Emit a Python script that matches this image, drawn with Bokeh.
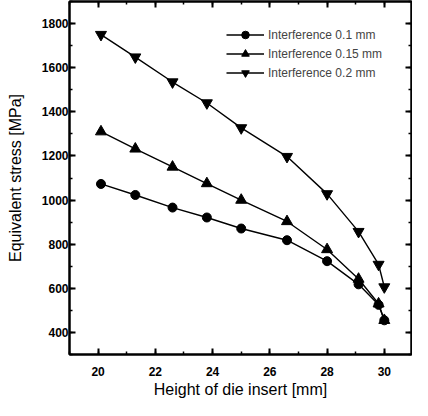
from bokeh.plotting import figure
from bokeh.models import LinearAxis, SingleIntervalTicker, Range1d, Legend
from bokeh.embed import file_html
from bokeh.resources import INLINE

height_mm = [20.1, 21.3, 22.6, 23.8, 25.0, 26.6, 28.0, 29.1, 29.8, 30.0]
stress_01 = [1073, 1023, 966, 921, 871, 818, 723, 618, 525, 455]
stress_015 = [1310, 1232, 1150, 1075, 1000, 903, 776, 642, 530, 455]
stress_02 = [1750, 1648, 1535, 1440, 1327, 1197, 1028, 857, 708, 606]
labels = ["Interference 0.1 mm", "Interference 0.15 mm", "Interference 0.2 mm"]

FONT = "Liberation Sans"

p = figure(width=412, height=400, output_backend="svg", toolbar_location=None,
           x_range=Range1d(19.0, 30.95), y_range=Range1d(300, 1900),
           min_border_left=69, min_border_right=1, min_border_top=1, min_border_bottom=46)
p.grid.visible = False
p.outline_line_color = "black"
p.outline_line_width = 2
p.background_fill_color = "white"
p.border_fill_color = "white"

xt = SingleIntervalTicker(interval=2, num_minor_ticks=2)
yt = SingleIntervalTicker(interval=200, num_minor_ticks=2)
p.xaxis.ticker = xt
p.yaxis.ticker = yt

for ax in [p.xaxis[0], p.yaxis[0]]:
    ax.major_tick_in = 6
    ax.major_tick_out = 0
    ax.minor_tick_in = 3
    ax.minor_tick_out = 0
    ax.axis_line_width = 2
    ax.major_tick_line_width = 2
    ax.minor_tick_line_width = 1.5
    ax.major_label_text_font = FONT
    ax.major_label_text_font_size = "12px"
    ax.major_label_text_font_style = "bold"
    ax.major_label_text_color = "black"
    ax.axis_label_text_font = FONT
    ax.axis_label_text_font_size = "16px"
    ax.axis_label_text_font_style = "normal"
    ax.axis_label_text_color = "black"

p.xaxis.axis_label = "Height of die insert [mm]"
p.yaxis.axis_label = "Equivalent stress [MPa]"
p.xaxis.major_label_standoff = 12
p.yaxis.major_label_standoff = 1
p.xaxis.axis_label_standoff = 2
p.yaxis.axis_label_standoff = 15

for loc, tk in [("above", SingleIntervalTicker(interval=2, num_minor_ticks=2)),
                ("right", SingleIntervalTicker(interval=200, num_minor_ticks=2))]:
    ax = LinearAxis(ticker=tk)
    ax.major_tick_in = 6
    ax.major_tick_out = 0
    ax.minor_tick_in = 3
    ax.minor_tick_out = 0
    ax.axis_line_width = 2
    ax.major_tick_line_width = 2
    ax.minor_tick_line_width = 1.5
    ax.major_label_text_font_size = "0px"
    ax.major_label_text_color = None
    p.add_layout(ax, loc)

r1 = p.line(height_mm, stress_01, line_color="black", line_width=1.4)
m1 = p.scatter(height_mm, stress_01, marker="circle", size=9, fill_color="black", line_color="black")
r2 = p.line(height_mm, stress_015, line_color="black", line_width=1.4)
m2 = p.scatter(height_mm, stress_015, marker="triangle", size=11, fill_color="black", line_color="black")
r3 = p.line(height_mm, stress_02, line_color="black", line_width=1.4)
m3 = p.scatter(height_mm, stress_02, marker="inverted_triangle", size=11, fill_color="black", line_color="black")

legend = Legend(items=[(labels[0], [r1, m1]), (labels[1], [r2, m2]), (labels[2], [r3, m3])],
                location=(157, 272), border_line_color=None, background_fill_alpha=0,
                padding=0, margin=0, spacing=0, glyph_width=38, glyph_height=19,
                label_height=19, label_standoff=4, label_text_font=FONT,
                label_text_font_size="12px")
p.add_layout(legend)

open("out.html", "w").write(file_html(p, INLINE))
